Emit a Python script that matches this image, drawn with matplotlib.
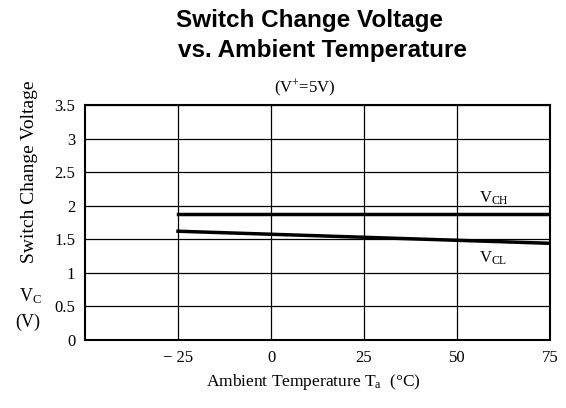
import matplotlib
matplotlib.use("Agg")
import matplotlib.pyplot as plt

plt.rcParams["mathtext.fontset"] = "custom"
plt.rcParams["mathtext.rm"] = "Liberation Serif"
plt.rcParams["mathtext.it"] = "Liberation Serif:italic"
plt.rcParams["mathtext.bf"] = "Liberation Serif:bold"

temps = [-25, 75]
vch = [1.87, 1.87]
vcl = [1.62, 1.44]
xticks = [-25, 0, 25, 50, 75]
yticks = [0, 0.5, 1, 1.5, 2, 2.5, 3, 3.5]
ytick_labels = ["0", "0.5", "1", "1.5", "2", "2.5", "3", "3.5"]
xtick_labels = ["\u2212 25", "0", "25", "50", "75"]

W, H = 566, 408
fig = plt.figure(figsize=(W/100, H/100), dpi=100)
ax = fig.add_axes([85/W, 1-340/H, (550-85)/W, (340-105)/H])
ax.set_xlim(-50, 75)
ax.set_ylim(0, 3.5)
ax.set_xticks(xticks)
ax.set_xticklabels(xtick_labels)
ax.set_yticks(yticks)
ax.set_yticklabels(ytick_labels)
ax.tick_params(length=0, pad=7, labelsize=12)
for lab in ax.get_xticklabels() + ax.get_yticklabels():
    lab.set_fontfamily("Liberation Serif")
ax.grid(True, color="black", linewidth=0.9)
for s in ax.spines.values():
    s.set_linewidth(1.5)

ax.plot(temps, vch, color="black", linewidth=2.5)
ax.plot(temps, vcl, color="black", linewidth=2.5)

ax.text(56, 2.04, r"V$_{\rm CH}$", fontsize=12, family="Liberation Serif")
ax.text(56, 1.15, r"V$_{\rm CL}$", fontsize=12, family="Liberation Serif")

fig.text(310/W, 1-21/H, "Switch Change Voltage", ha="center", va="center",
         fontsize=17.5, fontweight="bold", family="Liberation Sans")
fig.text(322/W, 1-50/H, "vs. Ambient Temperature", ha="center", va="center",
         fontsize=17.5, fontweight="bold", family="Liberation Sans")
fig.text(305/W, 1-88/H, "(V$^{+}$=5V)", ha="center", va="center",
         fontsize=12, family="Liberation Serif")
fig.text(30/W, 1-172/H, "Switch Change Voltage", ha="center", va="center",
         rotation=90, fontsize=14, family="Liberation Serif")
fig.text(30/W, 1-296/H, r"V$_{\rm C}$", ha="center", va="center",
         fontsize=13, family="Liberation Serif")
fig.text(28/W, 1-322/H, "(V)", ha="center", va="center",
         fontsize=13, family="Liberation Serif")
fig.text(313/W, 1-382/H, "Ambient Temperature T$_{\\rm a}$  (\u00b0C)", ha="center", va="center",
         fontsize=12.5, family="Liberation Serif")

fig.savefig("out.png", dpi=100)
